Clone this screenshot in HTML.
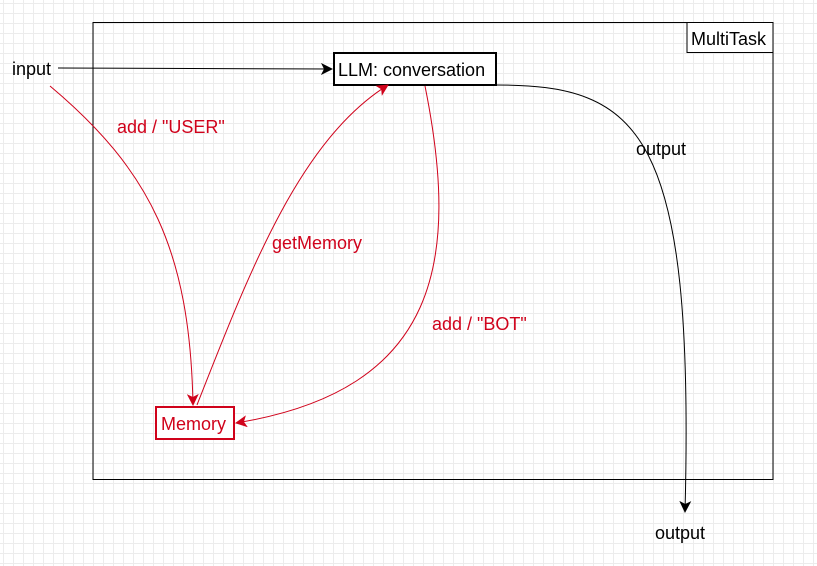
<!DOCTYPE html>
<html><head><style>
body{margin:0;width:817px;height:566px;overflow:hidden;background:#fff;
background-image:linear-gradient(#ececec 1px,transparent 1px),linear-gradient(90deg,#ececec 1px,transparent 1px);
background-size:10px 10px;background-position:3px 3px;}
svg{position:absolute;left:0;top:0}
text{font-family:"Liberation Sans",sans-serif;font-size:18px}
</style></head><body>
<svg width="817" height="566" viewBox="0 0 817 566">
<defs>
<marker id="ab" markerWidth="12" markerHeight="12" refX="11" refY="6" orient="auto" markerUnits="userSpaceOnUse"><path d="M0,0 L12,6 L0,12 L3,6z" fill="#000"/></marker>
<marker id="ar" markerWidth="12" markerHeight="12" refX="11" refY="6" orient="auto" markerUnits="userSpaceOnUse"><path d="M0,0 L12,6 L0,12 L3,6z" fill="#d0021b"/></marker>
</defs>
<rect x="93" y="22.5" width="680" height="457" fill="none" stroke="#000" stroke-width="1"/>
<rect x="687" y="22.5" width="86" height="30" fill="#fff" stroke="#000"/>
<text x="691" y="45" fill="#000">MultiTask</text>
<text x="12" y="75" fill="#000">input</text>
<path d="M58,68 L332,69" stroke="#000" fill="none" marker-end="url(#ab)"/>
<rect x="334" y="53" width="162" height="32" fill="#fff" stroke="#000" stroke-width="2"/>
<text x="338" y="76" fill="#000">LLM: conversation</text>
<path d="M496,85 C640,85 695,130 685,512" stroke="#000" fill="none" marker-end="url(#ab)"/>
<text x="636" y="155" fill="#000">output</text>
<text x="655" y="539" fill="#000">output</text>
<path d="M50,86 C150,170 190,250 193,405" stroke="#d0021b" fill="none" marker-end="url(#ar)"/>
<text x="117" y="133" fill="#d0021b">add / "USER"</text>
<path d="M197,405 C250,270 300,140 388,85" stroke="#d0021b" fill="none" marker-end="url(#ar)"/>
<text x="272" y="249" fill="#d0021b">getMemory</text>
<path d="M425,86 C460,260 440,390 236,423" stroke="#d0021b" fill="none" marker-end="url(#ar)"/>
<text x="432" y="330" fill="#d0021b">add / "BOT"</text>
<rect x="156" y="407" width="78" height="32" fill="#fff" stroke="#d0021b" stroke-width="2"/>
<text x="161" y="430" fill="#d0021b">Memory</text>
</svg>
</body></html>
